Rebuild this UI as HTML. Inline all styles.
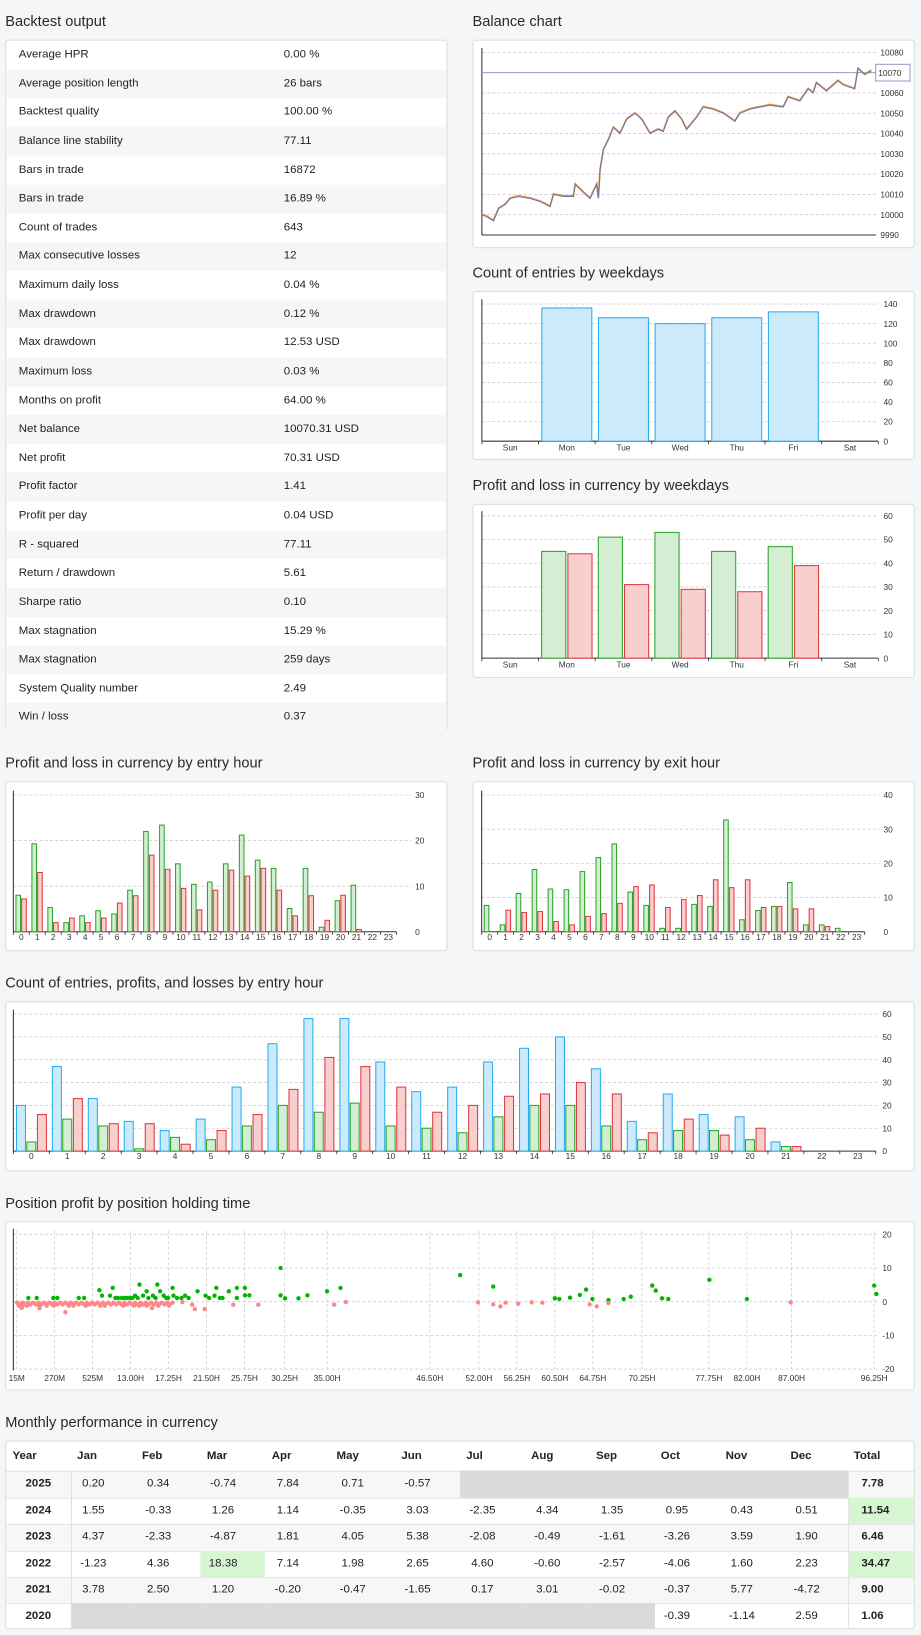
<!DOCTYPE html>
<html><head><meta charset="utf-8"><title>Backtest report</title>
<style>
html,body{margin:0;padding:0;background:#f5f6f8;width:921px;height:1635px;overflow:hidden;font-family:"Liberation Sans",Arial,sans-serif;color:#222}
#root{position:absolute;left:0;top:0;width:883px;height:1568px;transform:scale(1.04303);transform-origin:0 0}
.ttl{position:absolute;font-size:14px;line-height:16px;color:#2a2a2a;white-space:nowrap}
.panel{position:absolute;background:#fff;border:1px solid #dcdcdc;border-radius:3px;box-sizing:border-box}
.row{position:absolute;left:0;right:0;height:27.625px;font-size:11px;line-height:27.625px}
.row .k{position:absolute;left:12px}
.row .v{position:absolute;left:266px}
.gray{background:#f6f6f6}
svg{position:absolute;overflow:visible}
svg text{font-family:"Liberation Sans",Arial,sans-serif;font-size:8px;fill:#333}
.mc{position:absolute;font-size:11px;line-height:25.4px;height:25.4px;text-align:center;white-space:nowrap}
.mh{position:absolute;font-size:11px;font-weight:bold;line-height:28px;white-space:nowrap}
</style></head>
<body>
<div id="root">

<div class="ttl" style="left:5px;top:12px">Backtest output</div>
<div class="panel" id="stats" style="left:5px;top:38px;width:424px;height:663px"></div>

<div class="ttl" style="left:453px;top:12px">Balance chart</div>
<div class="panel" style="left:453px;top:38px;width:424px;height:200px"></div>
<svg id="balance" style="left:453px;top:38px" width="424" height="200" viewBox="453 38 424 200"></svg>

<div class="ttl" style="left:453px;top:253px">Count of entries by weekdays</div>
<div class="panel" style="left:453px;top:279px;width:424px;height:162px"></div>
<svg id="wdcount" style="left:453px;top:279px" width="424" height="162" viewBox="453 279 424 162"></svg>

<div class="ttl" style="left:453px;top:457px">Profit and loss in currency by weekdays</div>
<div class="panel" style="left:453px;top:483px;width:424px;height:167px"></div>
<svg id="wdpnl" style="left:453px;top:483px" width="424" height="167" viewBox="453 483 424 167"></svg>

<div class="ttl" style="left:5px;top:723px">Profit and loss in currency by entry hour</div>
<div class="panel" style="left:5px;top:749px;width:424px;height:163px"></div>
<svg id="entrypnl" style="left:5px;top:749px" width="424" height="163" viewBox="5 749 424 163"></svg>

<div class="ttl" style="left:453px;top:723px">Profit and loss in currency by exit hour</div>
<div class="panel" style="left:453px;top:749px;width:424px;height:163px"></div>
<svg id="exitpnl" style="left:453px;top:749px" width="424" height="163" viewBox="453 749 424 163"></svg>

<div class="ttl" style="left:5px;top:934px">Count of entries, profits, and losses by entry hour</div>
<div class="panel" style="left:5px;top:960px;width:872px;height:163px"></div>
<svg id="entrycount" style="left:5px;top:960px" width="872" height="163" viewBox="5 960 872 163"></svg>

<div class="ttl" style="left:5px;top:1145px">Position profit by position holding time</div>
<div class="panel" style="left:5px;top:1171px;width:872px;height:162px"></div>
<svg id="scatter" style="left:5px;top:1171px" width="872" height="162" viewBox="5 1171 872 162"></svg>

<div class="ttl" style="left:5px;top:1355px">Monthly performance in currency</div>
<div class="panel" id="monthly" style="left:5px;top:1381px;width:872px;height:181px;overflow:hidden"></div>

</div>
<script>
// ---------- data ----------
const statLabels=["Average HPR","Average position length","Backtest quality","Balance line stability","Bars in trade","Bars in trade","Count of trades","Max consecutive losses","Maximum daily loss","Max drawdown","Max drawdown","Maximum loss","Months on profit","Net balance","Net profit","Profit factor","Profit per day","R - squared","Return / drawdown","Sharpe ratio","Max stagnation","Max stagnation","System Quality number","Win / loss"];
const statValues=["0.00 %","26 bars","100.00 %","77.11","16872","16.89 %","643","12","0.04 %","0.12 %","12.53 USD","0.03 %","64.00 %","10070.31 USD","70.31 USD","1.41","0.04 USD","77.11","5.61","0.10","15.29 %","259 days","2.49","0.37"];

const balanceStep=[0,15,35,50,70,85,110,145,175,205,215,245,275,280,305,325,345,350,355,365,380,395,415,435,460,480,505,530,545,560,580,600,615,645,665,695,725,760,775,805,835,865,905,920,955,980,995,1005,1035,1070,1085,1120,1130,1150,1170];
const balanceValues=[10000,9999,9997,10003,10005,10008,10009,10008,10006.5,10004,10010,10009,10009,10015,10011,10008,10015,10008,10022,10032,10037,10043,10040,10047,10050,10047,10040,10042,10041,10048,10051,10047,10042,10048,10053,10052,10050,10046,10050,10052,10053,10054,10053,10058,10056,10062,10060,10065,10061,10066,10064,10062,10072,10069,10071];
const balanceTicks=[10080,10070,10060,10050,10040,10030,10020,10010,10000,9990];

const weekdays=["Sun","Mon","Tue","Wed","Thu","Fri","Sat"];
const weekdayCount=[0,136,126,120,126,132,0];
const weekdayCountTicks=[0,20,40,60,80,100,120,140];
const weekdayProfit=[0,45,51,53,45,47,0];
const weekdayLoss=[0,44,31,29,28,39,0];
const weekdayPnlTicks=[0,10,20,30,40,50,60];

const hours=["0","1","2","3","4","5","6","7","8","9","10","11","12","13","14","15","16","17","18","19","20","21","22","23"];
const entryProfit=[8,19.3,5.3,2,3.5,4.6,3.9,9.1,22,23.4,14.9,10.4,10.9,14.9,21.2,15.7,13.9,5.1,13.9,1,6.8,10.2,0,0];
const entryLoss=[7.2,13,2,3,2,3,6.3,7.9,16.8,13.7,9.5,4.8,9.1,13.5,12.2,13.9,9.1,3.5,7.9,2.5,8,0.5,0,0];
const entryTicks=[0,10,20,30];
const exitProfit=[7.7,2,11.2,18.2,12.5,12.3,17.6,21.7,25.7,11.6,7.7,1,1,8,7.4,32.7,3.5,6.2,7.4,14.4,2,2,1,0];
const exitLoss=[0,6.3,5.6,5.9,3,2,4.5,5.3,8.3,13.2,13.7,7.1,9.4,10.6,15.2,12.9,15.2,7.1,7.4,6.7,6.7,1.5,0,0];
const exitTicks=[0,10,20,30,40];
const countEntries=[20,37,23,13,9,14,28,47,58,58,39,26,28,39,45,50,36,13,25,16,15,4,0,0];
const countProfits=[4,14,11,1,6,5,11,20,17,21,11,10,8,15,20,20,11,5,9,9,5,2,0,0];
const countLosses=[16,23,12,12,3,9,16,27,41,37,28,17,20,24,25,30,25,8,14,7,10,2,0,0];
const countTicks=[0,10,20,30,40,50,60];

const holdTickHours=[0.25,4.5,8.75,13,17.25,21.5,25.75,30.25,35,46.5,52,56.25,60.5,64.75,70.25,77.75,82,87,96.25];
const holdTickLabels=["15M","270M","525M","13.00H","17.25H","21.50H","25.75H","30.25H","35.00H","46.50H","52.00H","56.25H","60.50H","64.75H","70.25H","77.75H","82.00H","87.00H","96.25H"];
const profitTicks=[-20,-10,0,10,20];
const holdHours=[1.56,2.49,4.35,4.8,7.2,7.8,9.5,9.8,10.7,11.0,11.3,11.6,12.0,12.3,12.6,12.9,13.2,13.5,13.8,14.0,14.4,14.8,15.0,15.5,15.8,16.0,16.3,16.7,17.0,17.2,17.7,17.8,18.2,18.7,19.1,19.5,20.5,21.4,21.8,22.4,22.6,23.0,23.3,24.0,24.9,24.9,25.8,25.8,26.3,29.8,29.8,30.3,31.8,32.8,35.0,36.5,49.9,53.6,60.5,61.0,62.2,63.3,64.0,64.7,66.5,68.2,69.0,71.4,71.8,72.5,73.2,77.8,82.0,96.25,96.5,
0.3,0.6,0.9,1.2,1.5,1.8,2.1,2.4,2.7,3.0,3.3,3.6,3.9,4.2,4.5,4.8,5.1,5.4,5.7,6.0,6.3,6.6,6.9,7.2,7.5,7.8,8.1,8.4,8.7,9.0,9.3,9.6,9.9,10.2,10.5,10.8,11.1,11.4,11.7,12.0,12.3,12.6,12.9,13.2,13.5,13.8,14.1,14.4,14.7,15.0,15.3,15.6,15.9,16.2,16.5,16.8,17.1,17.4,17.7,
0.5,0.9,1.4,2.8,3.6,4.4,6.1,6.6,8.0,9.6,10.1,12.2,13.4,14.0,14.8,16.1,17.3,
0.8,2.8,5.7,15.4,20.2,21.3,18.8,19.9,24.5,27.3,35.8,37.1,51.9,53.6,54.4,55.0,56.4,57.9,59.1,64.4,65.2,66.5,86.9];
const holdProfit=[1.1,1.1,1.1,1.1,1.1,1.1,3.4,1.8,1.8,4.1,1.1,1.1,1.1,1.1,1.1,1.1,1.1,1.8,1.1,5.1,1.8,3.1,1.1,1.8,1.1,5.1,3.1,1.8,1.1,1.1,4.1,1.8,1.1,1.1,1.8,1.1,3.1,1.8,1.1,1.8,4.1,1.1,1.1,3.1,4.1,1.1,4.1,1.9,1.9,10,1.9,1.0,1.0,1.9,3.1,4.1,7.9,4.5,1.0,0.8,1.2,2.0,3.6,0.8,0.5,0.8,1.5,4.8,3.3,1.0,0.8,6.5,0.8,4.8,2.3,
-0.3,-0.8,-0.3,-0.8,-0.3,-0.8,-0.3,-0.8,-0.3,-0.8,-0.3,-0.8,-0.3,-0.8,-0.3,-0.8,-0.3,-0.8,-0.3,-0.8,-0.3,-0.8,-0.3,-0.8,-0.3,-0.8,-0.3,-0.8,-0.3,-0.8,-0.3,-0.8,-0.3,-0.8,-0.3,-0.8,-0.3,-0.8,-0.3,-0.8,-0.3,-0.8,-0.3,-0.8,-0.3,-0.8,-0.3,-0.8,-0.3,-0.8,-0.3,-0.8,-0.3,-0.8,-0.3,-0.8,-0.3,-0.8,-0.3,
-1.2,-1.2,-1.2,-1.2,-1.2,-1.2,-1.2,-1.2,-1.2,-1.2,-1.2,-1.2,-1.2,-1.2,-1.2,-1.2,-1.2,
-1.9,-1.9,-3.1,-1.9,-2.2,-2.2,-0.1,-0.9,-0.9,-0.9,-0.9,-0.1,-0.2,-0.8,-1.4,-0.3,-0.6,-0.2,-0.3,-0.8,-1.4,-0.4,-0.2];

const monthNames=["Jan","Feb","Mar","Apr","May","Jun","Jul","Aug","Sep","Oct","Nov","Dec"];
const years=["2025","2024","2023","2022","2021","2020"];
const monthly2025=["0.20","0.34","-0.74","7.84","0.71","-0.57",null,null,null,null,null,null];
const monthly2024=["1.55","-0.33","1.26","1.14","-0.35","3.03","-2.35","4.34","1.35","0.95","0.43","0.51"];
const monthly2023=["4.37","-2.33","-4.87","1.81","4.05","5.38","-2.08","-0.49","-1.61","-3.26","3.59","1.90"];
const monthly2022=["-1.23","4.36","18.38","7.14","1.98","2.65","4.60","-0.60","-2.57","-4.06","1.60","2.23"];
const monthly2021=["3.78","2.50","1.20","-0.20","-0.47","-1.65","0.17","3.01","-0.02","-0.37","5.77","-4.72"];
const monthly2020=[null,null,null,null,null,null,null,null,null,"-0.39","-1.14","2.59"];
const yearTotals=["7.78","11.54","6.46","34.47","9.00","1.06"];

// ---------- helpers ----------
const NS="http://www.w3.org/2000/svg";
function E(p,tag,a){const e=document.createElementNS(NS,tag);for(const k in a)e.setAttribute(k,a[k]);p.appendChild(e);return e;}
function lin(d0,d1,r0,r1){return v=>r0+(v-d0)/(d1-d0)*(r1-r0);}
function hgrid(svg,ticks,yf,x0,x1,lx){
  ticks.forEach(t=>{
    const g=E(svg,"line",{x1:x0,x2:x1,y1:yf(t),y2:yf(t),stroke:"#cfcfcf","stroke-dasharray":"3,2","stroke-width":0.8});
    
    
    const tx=E(svg,"text",{x:lx,y:yf(t)+3});
    tx.textContent=String(t);
    
    
  });
}
function axes(svg,x0,x1,yTop,yBot){
  const a=E(svg,"line",{x1:x0,x2:x0,y1:yTop,y2:yBot,stroke:"#333","stroke-width":1});
  
  
  const b=E(svg,"line",{x1:x0,x2:x1,y1:yBot,y2:yBot,stroke:"#333","stroke-width":1});
  
  
}
function catAxis(svg,cats,x0,slot,yBot,ly,name){
  cats.forEach((c,i)=>{
    const tk=E(svg,"line",{x1:x0+(i+1)*slot,x2:x0+(i+1)*slot,y1:yBot,y2:yBot+3,stroke:"#333","stroke-width":0.8});
    
    
    const t=E(svg,"text",{x:x0+(i+0.5)*slot,y:ly,"text-anchor":"middle"});
    t.textContent=c;
    
    
  });
  const t0=E(svg,"line",{x1:x0,x2:x0,y1:yBot,y2:yBot+3,stroke:"#333","stroke-width":0.8});
  
  
}
function bar(svg,x,w,yf,v,fill,stroke,name){
  const y=yf(v),y0=yf(0);
  if(v<=0)return;
  const r=E(svg,"rect",{x:x,y:y,width:w,height:y0-y,fill:fill,stroke:stroke,"stroke-width":1});
  
  
}
const GF="#d3eed3",GS="#2aa52a",RF="#f8cfcf",RS="#e0383e",BF="#cdeafc",BS="#27aef0";

// ---------- stats table ----------
(function(){
  const p=document.getElementById("stats");
  statLabels.forEach((l,i)=>{
    const r=document.createElement("div");
    r.className="row"+(i%2?" gray":"");
    r.style.top=(i*27.625)+"px";
    
    
    const k=document.createElement("span");k.className="k";k.textContent=l;
    
    
    const v=document.createElement("span");v.className="v";v.textContent=statValues[i];
    
    
    r.appendChild(k);r.appendChild(v);p.appendChild(r);
  });
})();

// ---------- balance ----------
(function(){
  const s=document.getElementById("balance");
  const xf=lin(0,1175,462,837), yf=lin(10080,9990,50.2,225.3);
  hgrid(s,balanceTicks.slice(0,-1),yf,462,840,844);
  const lt=E(s,"text",{x:844,y:yf(9990)+3});lt.textContent="9990";
  
  
  axes(s,462,840,46,yf(9990));
  const last=balanceValues[balanceValues.length-1];
  const ref=Math.round(last/10)*10;
  const hl=E(s,"line",{x1:462,x2:840,y1:yf(ref),y2:yf(ref),stroke:"#9a9cc4","stroke-width":1});
  
  
  let d="";
  balanceValues.forEach((v,i)=>{d+=(i?"L":"M")+xf(balanceStep[i]).toFixed(1)+","+yf(v).toFixed(1);});
  const o=E(s,"path",{d:d,fill:"none",stroke:"#f0a040","stroke-width":1.6,transform:"translate(0,-0.6)"});
  
  
  const p=E(s,"path",{d:d,fill:"none",stroke:"#7474a6","stroke-width":1.1});
  
  
  const bx=E(s,"rect",{x:839.5,y:yf(ref)-8,width:33,height:16,fill:"#fff",stroke:"#9a9cc4","stroke-width":1});
  
  
  const bt=E(s,"text",{x:842,y:yf(ref)+3,"font-size":"8.5"});bt.textContent=String(ref);
  
  
})();

// ---------- weekday count ----------
(function(){
  const s=document.getElementById("wdcount");
  const yf=lin(0,140,423,291.5), x0=462, slot=54.3;
  hgrid(s,weekdayCountTicks.slice(1),yf,x0,842,847);
  const z=E(s,"text",{x:847,y:yf(0)+3});z.textContent="0";
  
  
  axes(s,x0,842,287,yf(0));
  weekdayCount.forEach((v,i)=>bar(s,x0+i*slot+3.2,slot-6.4,yf,v,BF,BS,"entries-bar"));
  catAxis(s,weekdays,x0,slot,yf(0),432,"weekday-label");
})();

// ---------- weekday pnl ----------
(function(){
  const s=document.getElementById("wdpnl");
  const yf=lin(0,60,631,494.5), x0=462, slot=54.3;
  hgrid(s,weekdayPnlTicks.slice(1),yf,x0,842,847);
  const z=E(s,"text",{x:847,y:yf(0)+3});z.textContent="0";
  
  
  axes(s,x0,842,490,yf(0));
  const w=(slot-8)/2;
  weekdayProfit.forEach((v,i)=>bar(s,x0+i*slot+3,w,yf,v,GF,GS,"profit-bar"));
  weekdayLoss.forEach((v,i)=>bar(s,x0+i*slot+5+w,w,yf,v,RF,RS,"loss-bar"));
  catAxis(s,weekdays,x0,slot,yf(0),640,"weekday-label");
})();

// ---------- hour pnl ----------
function hourPnl(id,x0,prof,loss,ticks,vmax,yTopV){
  const s=document.getElementById(id);
  const yf=lin(0,vmax,893.3,762.2), slot=15.3, xe=x0+24*slot+14;
  hgrid(s,ticks.slice(1),yf,x0,xe,xe+4);
  const z=E(s,"text",{x:xe+4,y:yf(0)+3});z.textContent="0";
  
  
  axes(s,x0,x0+24*slot,758,yf(0));
  prof.forEach((v,i)=>bar(s,x0+i*slot+2.5,4.4,yf,v,GF,GS,"profit-bar"));
  loss.forEach((v,i)=>bar(s,x0+i*slot+8,4.4,yf,v,RF,RS,"loss-bar"));
  catAxis(s,hours,x0,slot,yf(0),901,"hour-label");
}
hourPnl("entrypnl",12.8,entryProfit,entryLoss,entryTicks,30);
hourPnl("exitpnl",461.8,exitProfit,exitLoss,exitTicks,40);

// ---------- entry count ----------
(function(){
  const s=document.getElementById("entrycount");
  const yf=lin(0,60,1103.6,972.2), x0=12.8, slot=34.45;
  hgrid(s,countTicks.slice(1),yf,x0,842,846);
  const z=E(s,"text",{x:846,y:yf(0)+3});z.textContent="0";
  
  
  axes(s,x0,x0+24*slot,968,yf(0));
  countEntries.forEach((v,i)=>bar(s,x0+i*slot+3,8.6,yf,v,BF,BS,"entries-bar"));
  countProfits.forEach((v,i)=>bar(s,x0+i*slot+12.9,8.6,yf,v,GF,GS,"profit-count-bar"));
  countLosses.forEach((v,i)=>bar(s,x0+i*slot+23.1,8.6,yf,v,RF,RS,"loss-count-bar"));
  catAxis(s,hours,x0,slot,yf(0),1111,"hour-label");
})();

// ---------- scatter ----------
(function(){
  const s=document.getElementById("scatter");
  const xf=lin(0.25,96.25,16,838.1), yf=lin(0,20,1248,1183.4);
  holdTickHours.forEach((h,i)=>{
    const g=E(s,"line",{x1:xf(h),x2:xf(h),y1:1180,y2:1313,stroke:"#d2d2d2","stroke-dasharray":"3,2","stroke-width":0.8});
    
    
    const t=E(s,"text",{x:xf(h),y:1324,"text-anchor":"middle"});
    t.textContent=holdTickLabels[i];
    
    
  });
  hgrid(s,profitTicks,yf,12.8,842,846);
  const a=E(s,"line",{x1:12.8,x2:12.8,y1:1178,y2:1314,stroke:"#333","stroke-width":1});
  
  
  holdHours.forEach((h,i)=>{
    const v=holdProfit[i];
    const c=E(s,"circle",{cx:xf(h),cy:yf(v),r:2.1,fill:v>0?"#00b400":"#ff8787"});
    
    
  });
})();

// ---------- monthly table ----------
(function(){
  const p=document.getElementById("monthly");
  const T=1381, colStart=66.5, colW=62.17, rowH=25.4, r0=1409.4;
  const rows=[monthly2025,monthly2024,monthly2023,monthly2022,monthly2021,monthly2020];
  function div(cls,l,t,w,h,txt,name,style){
    const d=document.createElement("div");d.className=cls;
    d.style.left=(l-5)+"px";d.style.top=(t-T)+"px";
    if(w!=null)d.style.width=w+"px";
    if(h!=null)d.style.height=h+"px";
    if(style)d.style.cssText+=style;
    if(txt!=null)d.textContent=txt;
    
    
    p.appendChild(d);return d;
  }
  div("mh",11,1381,null,null,"Year","year-header");
  monthNames.forEach((m,i)=>div("mh",colStart+i*colW+6.5,1381,null,null,m,"month-header"));
  div("mh",817.5,1381,null,null,"Total","total-header");
  years.forEach((y,r)=>{
    const top=r0+r*rowH;
    div("mc",5,top,872,rowH,null,"year-row","background:"+(r%2?"#fff":"#f7f7f7")+";border-top:1px solid #e4e4e4;box-sizing:border-box");
    div("mc",5,top,61.5,rowH,y,"year-cell","font-weight:bold");
    rows[r].forEach((v,i)=>{
      const x=colStart+i*colW;
      if(v===null){div("mc",x,top,colW+0.5,rowH,null,"empty-month-cell","background:#dadada");return;}
      const big=parseFloat(v)>10;
      div("mc",x,top,44,rowH,v,"month-value",big?"background:#d6f6d2;width:"+colW+"px;padding-right:18px;box-sizing:border-box":"");
    });
    const tot=parseFloat(yearTotals[r]);
    div("mc",811.8,top,65.5,rowH,yearTotals[r],"year-total","font-weight:bold;text-align:left;padding-left:12px;box-sizing:border-box;border-left:1px solid #e4e4e4"+(tot>10?";background:#d6f6d2":""));
  });
  div("mc",66.5,1409.4,1,152,null,"year-separator","background:#e0e0e0;width:1px");
})();
</script>
</body></html>
